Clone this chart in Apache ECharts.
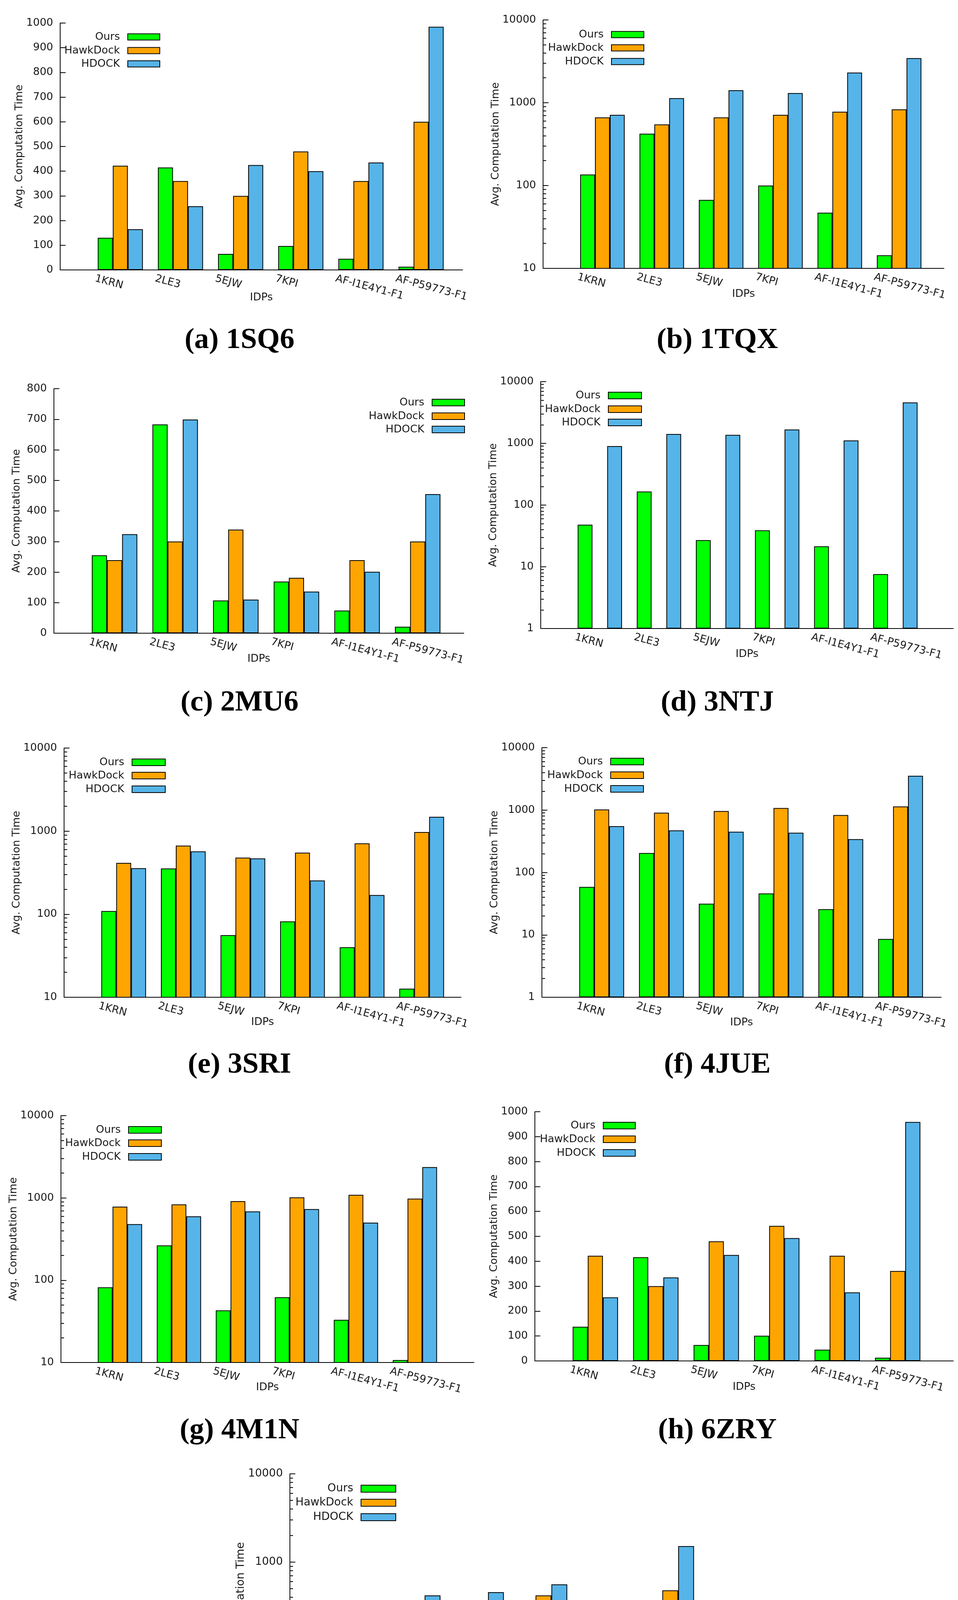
<!DOCTYPE html>
<html>
<head>
<meta charset="utf-8">
<script src="https://cdn.jsdelivr.net/npm/echarts@6/dist/echarts.min.js"></script>
<style>
html,body{margin:0;padding:0;background:#fff;overflow:hidden;}
#chart{width:2452px;height:4696px;}
</style>
</head>
<body>
<div id="chart"></div>
<script>
// ---------------- DATA ----------------
const categories = ['1KRN', '2LE3', '5EJW', '7KPI', 'AF-I1E4Y1-F1', 'AF-P59773-F1'];
const seriesNames = ['Ours', 'HawkDock', 'HDOCK'];
const captions = ['(a) 1SQ6', '(b) 1TQX', '(c) 2MU6', '(d) 3NTJ', '(e) 3SRI', '(f) 4JUE', '(g) 4M1N', '(h) 6ZRY', '(i) 7A7H'];
const yAxisTitle = 'Avg. Computation Time';
const xAxisTitle = 'IDPs';

// (a) 1SQ6 - linear 0..1000
const ours_1SQ6  = [130, 415, 65, 97, 45, 13];
const hawk_1SQ6  = [422, 360, 300, 480, 360, 600];
const hdock_1SQ6 = [165, 258, 425, 400, 435, 985];
// (b) 1TQX - log 10..10000
const ours_1TQX  = [136, 423, 67, 100, 47, 14.4];
const hawk_1TQX  = [665, 547, 665, 715, 778, 832];
const hdock_1TQX = [715, 1137, 1414, 1308, 2312, 3458];
// (c) 2MU6 - linear 0..800
const ours_2MU6  = [255, 683, 107, 169, 74, 21];
const hawk_2MU6  = [239, 300, 339, 181, 239, 300];
const hdock_2MU6 = [324, 699, 110, 136, 201, 455];
// (d) 3NTJ - log 1..10000 (no HawkDock bars in the reference)
const ours_3NTJ  = [48, 166, 27, 39, 21.5, 7.6];
const hawk_3NTJ  = [null, null, null, null, null, null];
const hdock_3NTJ = [904, 1419, 1372, 1678, 1114, 4600];
// (e) 3SRI - log 10..10000
const ours_3SRI  = [109, 355, 56, 82, 40, 12.7];
const hawk_3SRI  = [414, 670, 480, 551, 713, 975];
const hdock_3SRI = [358, 571, 470, 255, 170, 1486];
// (f) 4JUE - log 1..10000
const ours_4JUE  = [58.7, 205, 31.6, 46, 25.8, 8.6];
const hawk_4JUE  = [1021, 906, 966, 1080, 833, 1143];
const hdock_4JUE = [551, 472, 449, 434, 342, 3537];
// (g) 4M1N - log 10..10000
const ours_4M1N  = [82, 265, 43, 62, 33, 10.7];
const hawk_4M1N  = [783, 835, 913, 1016, 1089, 979];
const hdock_4M1N = [480, 597, 686, 731, 501, 2366];
// (h) 6ZRY - linear 0..1000
const ours_6ZRY  = [137, 416, 64, 101, 45, 13];
const hawk_6ZRY  = [422, 300, 480, 542, 422, 361];
const hdock_6ZRY = [255, 335, 425, 493, 275, 959];
// (i) 7A7H - log 10..10000
const ours_7A7H  = [117, 362, 57, 88, 42, 13.3];
const hawk_7A7H  = [238, 179, 299, 420, 359, 479];
const hdock_7A7H = [277, 420, 456, 560, 351, 1520];

// y-axis ranges per panel
const yRanges = [
  {type: 'value', min: 0, max: 1000, interval: 100},
  {type: 'log', min: 10, max: 10000},
  {type: 'value', min: 0, max: 800, interval: 100},
  {type: 'log', min: 1, max: 10000},
  {type: 'log', min: 10, max: 10000},
  {type: 'log', min: 1, max: 10000},
  {type: 'log', min: 10, max: 10000},
  {type: 'value', min: 0, max: 1000, interval: 100},
  {type: 'log', min: 10, max: 10000}
];
const panelData = [
  [ours_1SQ6, hawk_1SQ6, hdock_1SQ6],
  [ours_1TQX, hawk_1TQX, hdock_1TQX],
  [ours_2MU6, hawk_2MU6, hdock_2MU6],
  [ours_3NTJ, hawk_3NTJ, hdock_3NTJ],
  [ours_3SRI, hawk_3SRI, hdock_3SRI],
  [ours_4JUE, hawk_4JUE, hdock_4JUE],
  [ours_4M1N, hawk_4M1N, hdock_4M1N],
  [ours_6ZRY, hawk_6ZRY, hdock_6ZRY],
  [ours_7A7H, hawk_7A7H, hdock_7A7H]
];

// ---------------- LAYOUT / STYLE ----------------
const W = 2452;
const colors = ['#00ff00', '#ffa500', '#56b4e9'];
const txt = '#1a1a1a';
const layout = [
  {axisL: 154,  axisR: 1184, top: 59,   bot: 691,  endU: 0.69, legR: 410,  legT: [81, 116, 150],    legW: 82, legH: 16, cap: [613, 872],   yDist: 105, xDist: 73, font: 27},
  {axisL: 1390, axisR: 2416, top: 51,   bot: 687,  endU: 0.755,legR: 1649, legT: [75, 109, 144],    legW: 83, legH: 16, cap: [1836, 872],  yDist: 120, xDist: 68, font: 27},
  {axisL: 138,  axisR: 1187, top: 995,  bot: 1621, endU: 0.76, legR: 1190, legT: [1017, 1052, 1086],legW: 83, legH: 17, cap: [613, 1800],  yDist: 98,  xDist: 68, font: 27},
  {axisL: 1384, axisR: 2440, top: 977,  bot: 1609, endU: 0.98, legR: 1643, legT: [999, 1034, 1068], legW: 85, legH: 17, cap: [1836, 1800], yDist: 109, xDist: 68, font: 27},
  {axisL: 164,  axisR: 1180, top: 1915, bot: 2553, endU: 0.66, legR: 424,  legT: [1938, 1972, 2007],legW: 85, legH: 17, cap: [613, 2727],  yDist: 119, xDist: 66, font: 27},
  {axisL: 1387, axisR: 2409, top: 1914, bot: 2553, endU: 0.68, legR: 1648, legT: [1936, 1971, 2006],legW: 84, legH: 17, cap: [1836, 2727], yDist: 116, xDist: 67, font: 27},
  {axisL: 156,  axisR: 1213, top: 2856, bot: 3488, endU: 1.0,  legR: 414,  legT: [2879, 2913, 2948],legW: 84, legH: 17, cap: [613, 3663],  yDist: 115, xDist: 66, font: 27},
  {axisL: 1369, axisR: 2440, top: 2846, bot: 3484, endU: 0.92, legR: 1627, legT: [2868, 2903, 2938],legW: 82, legH: 17, cap: [1836, 3663], yDist: 102, xDist: 69, font: 27},
  {axisL: 742,  axisR: 1821, top: 3773, bot: 4451, endU: 0.65, legR: 1014, legT: [3797, 3833, 3870],legW: 89, legH: 18, cap: [1226, 4626], yDist: 126, xDist: 76, font: 28}
];

const option = {
  animation: false,
  backgroundColor: '#ffffff',
  textStyle: {fontFamily: 'DejaVu Sans'},
  grid: [], xAxis: [], yAxis: [], series: [], legend: [], graphic: []
};

panelData.forEach((data, k) => {
  const L = layout[k];
  const yr = yRanges[k];
  const unit = (L.axisR - L.axisL) / (6 + L.endU);
  const h = L.bot - L.top;
  const barLeft = L.axisL + unit * 0.5;
  const gi = option.grid.length;
  const isLog = yr.type === 'log';

  option.grid.push({left: L.axisL, top: L.top, width: L.axisR - L.axisL, height: h});
  option.grid.push({left: barLeft, top: L.top, width: 6 * unit, height: h});
  option.grid.push({left: barLeft - 0.42 * unit, top: L.top, width: 6 * unit, height: h});

  const yBase = isLog ? {type: 'log', logBase: 10, min: yr.min, max: yr.max}
                      : {type: 'value', min: yr.min, max: yr.max, interval: yr.interval};

  // frame y axis (visible)
  option.yAxis.push(Object.assign({}, yBase, {
    gridIndex: gi,
    axisLine: {show: true, lineStyle: {color: '#000', width: 2}},
    axisTick: {show: true, inside: true, length: 14, lineStyle: {color: '#000', width: 2}},
    minorTick: isLog ? {show: true, splitNumber: 9, length: 8, lineStyle: {color: '#000', width: 2}} : {show: false},
    splitLine: {show: false},
    axisLabel: {fontSize: L.font, color: txt, margin: 18, formatter: v => String(Math.round(v))},
    name: yAxisTitle, nameLocation: 'middle', nameGap: L.yDist - 16,
    nameTextStyle: {fontSize: L.font, color: txt}
  }));
  // bars y axis (hidden, same scale)
  option.yAxis.push(Object.assign({}, yBase, {gridIndex: gi + 1, show: false, splitLine: {show: false}}));
  // label grid y axis (hidden)
  option.yAxis.push({type: 'value', min: 0, max: 1, gridIndex: gi + 2, show: false, splitLine: {show: false}});

  // frame x axis line + name
  option.xAxis.push({
    type: 'value', min: 0, max: 1, gridIndex: gi,
    axisLine: {show: true, onZero: false, lineStyle: {color: '#000', width: 2}},
    axisTick: {show: false}, axisLabel: {show: false}, splitLine: {show: false},
    name: xAxisTitle, nameLocation: 'middle', nameGap: L.xDist - 16,
    nameTextStyle: {fontSize: L.font, color: txt}
  });
  // bars x axis
  option.xAxis.push({type: 'category', data: categories, gridIndex: gi + 1, show: false});
  // labels x axis
  option.xAxis.push({
    type: 'category', data: categories, gridIndex: gi + 2,
    axisLine: {show: false}, axisTick: {show: false}, splitLine: {show: false},
    axisLabel: {rotate: -15, margin: 22, fontSize: L.font, color: txt, interval: 0}
  });

  seriesNames.forEach((name, s) => {
    option.series.push({
      type: 'bar', name: name, xAxisIndex: gi + 1, yAxisIndex: gi + 1,
      data: data[s], barGap: '0%', barCategoryGap: '25%', clip: true,
      itemStyle: {color: colors[s], borderColor: '#000', borderWidth: 2}
    });
    option.legend.push({
      data: [name], orient: 'horizontal', align: 'right', selectedMode: false,
      right: W - L.legR, top: L.legT[s], padding: 0,
      itemWidth: L.legW, itemHeight: L.legH, icon: 'rect',
      itemStyle: {borderColor: '#000', borderWidth: 2},
      textStyle: {fontSize: L.font, color: txt, lineHeight: L.legH, padding: [0, 15, 0, 0]}
    });
  });

  option.graphic.push({
    type: 'text', x: L.cap[0], y: L.cap[1],
    style: {text: captions[k], font: 'bold 75px "Liberation Serif"', fill: '#000', align: 'center', verticalAlign: 'middle'}
  });
});

const chart = echarts.init(document.getElementById('chart'), null, {renderer: 'canvas', width: 2452, height: 4696});
chart.setOption(option);
</script>
</body>
</html>
